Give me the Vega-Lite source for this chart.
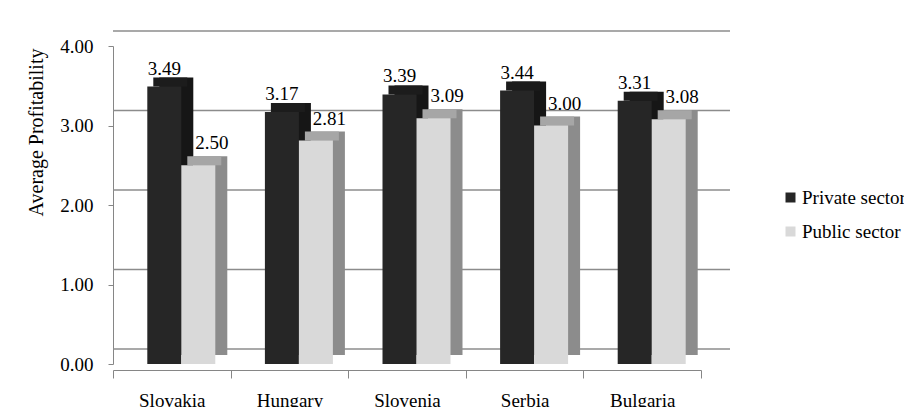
{
  "$schema": "https://vega.github.io/schema/vega-lite/v6.json",
  "width": 588,
  "height": 318,
  "autosize": "none",
  "padding": {"left": 113, "top": 46, "right": 203, "bottom": 43},
  "background": "white",
  "config": {"view": {"stroke": null}, "font": "Liberation Serif"},
  "datasets": {
    "bars": [
      {"country": "Slovakia", "sector": "Private sector", "value": 3.49},
      {"country": "Slovakia", "sector": "Public sector", "value": 2.50},
      {"country": "Hungary", "sector": "Private sector", "value": 3.17},
      {"country": "Hungary", "sector": "Public sector", "value": 2.81},
      {"country": "Slovenia", "sector": "Private sector", "value": 3.39},
      {"country": "Slovenia", "sector": "Public sector", "value": 3.09},
      {"country": "Serbia", "sector": "Private sector", "value": 3.44},
      {"country": "Serbia", "sector": "Public sector", "value": 3.00},
      {"country": "Bulgaria", "sector": "Private sector", "value": 3.31},
      {"country": "Bulgaria", "sector": "Public sector", "value": 3.08}
    ],
    "grid": [{"value": 0}, {"value": 1}, {"value": 2}, {"value": 3}, {"value": 4}]
  },
  "layer": [
    {
      "data": {"name": "grid"},
      "mark": {"type": "rule", "color": "#8c8c8c", "strokeWidth": 1.5, "xOffset": 29, "x2Offset": 29, "yOffset": -15},
      "encoding": {
        "y": {
          "field": "value", "type": "quantitative",
          "scale": {"domain": [0, 4], "nice": false, "zero": true},
          "axis": {
            "values": [0, 1, 2, 3, 4], "format": ".2f",
            "title": "Average Profitability", "titleFont": "Liberation Serif", "titleFontSize": 20,
            "titleFontWeight": "normal", "titleColor": "black", "titlePadding": 13, "titleY": 86,
            "labelFont": "Liberation Serif", "labelFontSize": 19, "labelColor": "black",
            "labelPadding": 15, "labelFlush": false, "tickSize": 5, "tickColor": "#868686",
            "domainColor": "#868686", "grid": false
          }
        }
      }
    },
    {
      "data": {"name": "bars"},
      "transform": [{"filter": "datum.sector === 'Private sector'"}],
      "mark": {"type": "bar", "width": 34, "xOffset": 4.5, "yOffset": -9, "color": "#161616"},
      "encoding": {
        "x": {"field": "country", "type": "nominal", "sort": null, "scale": {"paddingInner": 0, "paddingOuter": 0},
          "axis": {"title": null, "offset": 6, "tickBand": "extent", "tickSize": 8, "tickColor": "#868686",
            "domainColor": "#868686", "labelFont": "Liberation Serif", "labelFontSize": 19, "labelColor": "black",
            "labelPadding": 13, "labelAngle": 0}},
        "y": {"field": "value", "type": "quantitative"}
      }
    },
    {
      "data": {"name": "bars"},
      "transform": [{"filter": "datum.sector === 'Public sector'"}],
      "mark": {"type": "bar", "width": 34, "xOffset": 38.5, "yOffset": -9, "color": "#8c8c8c"},
      "encoding": {
        "x": {"field": "country", "type": "nominal", "sort": null},
        "y": {"field": "value", "type": "quantitative"}
      }
    },
    {
      "data": {"name": "bars"},
      "transform": [{"filter": "datum.sector === 'Private sector'"}],
      "mark": {"type": "tick", "thickness": 9, "size": 34, "xOffset": -1.5, "yOffset": -4.5, "opacity": 1, "color": "#1c1c1c"},
      "encoding": {
        "x": {"field": "country", "type": "nominal", "sort": null},
        "y": {"field": "value", "type": "quantitative"}
      }
    },
    {
      "data": {"name": "bars"},
      "transform": [{"filter": "datum.sector === 'Public sector'"}],
      "mark": {"type": "tick", "thickness": 9, "size": 34, "xOffset": 32.5, "yOffset": -4.5, "opacity": 1, "color": "#a6a6a6"},
      "encoding": {
        "x": {"field": "country", "type": "nominal", "sort": null},
        "y": {"field": "value", "type": "quantitative"}
      }
    },
    {
      "data": {"name": "bars"},
      "transform": [{"filter": "datum.sector === 'Private sector'"}],
      "mark": {"type": "bar", "width": 34, "xOffset": -7.5},
      "encoding": {
        "x": {"field": "country", "type": "nominal", "sort": null},
        "y": {"field": "value", "type": "quantitative"},
        "color": {
          "field": "sector", "type": "nominal",
          "scale": {"domain": ["Private sector", "Public sector"], "range": ["#262626", "#d9d9d9"]},
          "legend": {
            "title": null, "orient": "none", "legendX": 668, "legendY": 142, "padding": 0,
            "symbolType": "square", "symbolSize": 100, "symbolStrokeWidth": 0,
            "labelFont": "Liberation Serif", "labelFontSize": 19, "labelColor": "black",
            "labelOffset": 2, "rowPadding": 14
          }
        }
      }
    },
    {
      "data": {"name": "bars"},
      "transform": [{"filter": "datum.sector === 'Public sector'"}],
      "mark": {"type": "bar", "width": 34, "xOffset": 26.5},
      "encoding": {
        "x": {"field": "country", "type": "nominal", "sort": null},
        "y": {"field": "value", "type": "quantitative"},
        "color": {"field": "sector", "type": "nominal"}
      }
    },
    {
      "data": {"name": "bars"},
      "transform": [{"filter": "datum.sector === 'Private sector'"}],
      "mark": {"type": "text", "baseline": "alphabetic", "dy": -12, "xOffset": -7.5, "fontSize": 19, "color": "black", "font": "Liberation Serif"},
      "encoding": {
        "x": {"field": "country", "type": "nominal", "sort": null},
        "y": {"field": "value", "type": "quantitative"},
        "text": {"field": "value", "type": "quantitative", "format": ".2f"}
      }
    },
    {
      "data": {"name": "bars"},
      "transform": [{"filter": "datum.sector === 'Public sector'"}],
      "mark": {"type": "text", "baseline": "alphabetic", "dy": -16, "xOffset": 40, "fontSize": 19, "color": "black", "font": "Liberation Serif"},
      "encoding": {
        "x": {"field": "country", "type": "nominal", "sort": null},
        "y": {"field": "value", "type": "quantitative"},
        "text": {"field": "value", "type": "quantitative", "format": ".2f"}
      }
    }
  ]
}
